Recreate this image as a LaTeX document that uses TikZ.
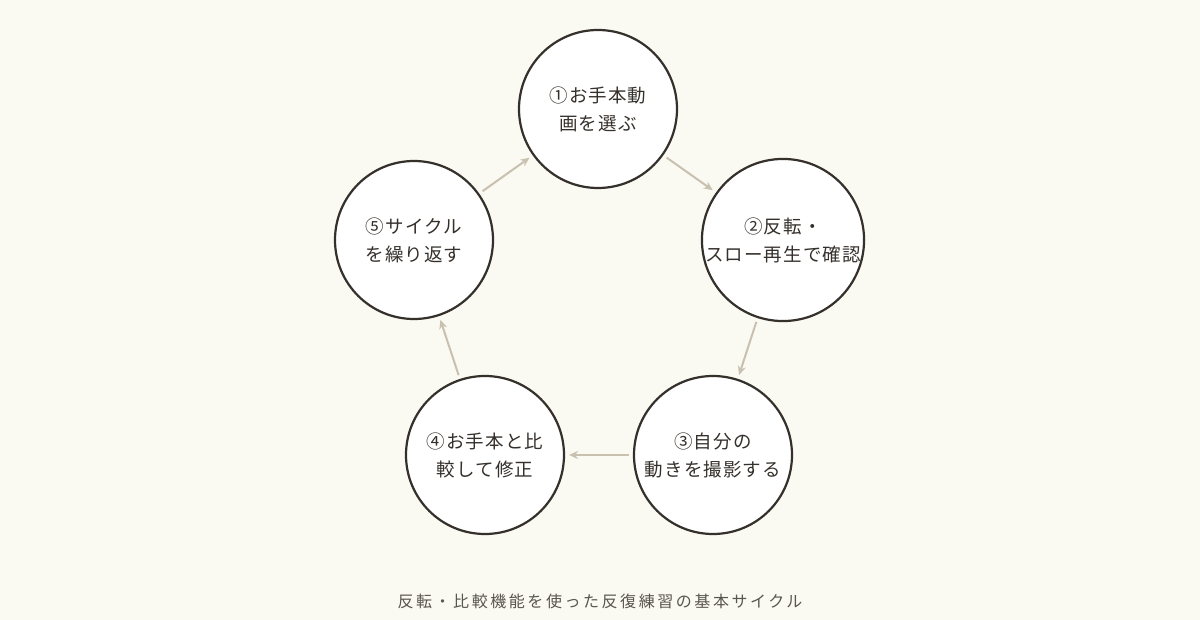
\documentclass[tikz,border=0pt]{standalone}
\usepackage{fontspec}
\newfontfamily\cjkn[LetterSpace=6]{Noto Sans CJK JP}
\newfontfamily\cjkc[LetterSpace=16]{Noto Sans CJK JP}
\usetikzlibrary{arrows.meta}
\definecolor{bg}{HTML}{FAF9F2}
\definecolor{ink}{HTML}{35302B}
\definecolor{arr}{HTML}{C9C1B0}
\definecolor{cap}{HTML}{5A554E}
\begin{document}
\begin{tikzpicture}[x=1pt,y=-1pt,
  st/.style={circle,draw=ink,line width=2.2pt,fill=white,minimum size=158pt,inner sep=0pt,align=center,font=\cjkn\fontsize{18.5}{28}\selectfont,text=ink},
  ar/.style={draw=arr,line width=2pt,-{Stealth[length=9pt,width=8pt,open]},shorten >=4pt,shorten <=4pt}]
\fill[bg] (0,0) rectangle (1200,620);
\useasboundingbox (0,0) rectangle (1200,620);
\node[st] (a) at (598,109) {①お手本動\\画を選ぶ};
\node[st] (b) at (783,240) {②反転・\\スロー再生で確認};
\node[st] (c) at (713,455) {③自分の\\動きを撮影する};
\node[st] (d) at (485,455) {④お手本と比\\較して修正};
\node[st] (e) at (414,240) {⑤サイクル\\を繰り返す};
\draw[ar] (a) -- (b);
\draw[ar] (b) -- (c);
\draw[ar] (c) -- (d);
\draw[ar] (d) -- (e);
\draw[ar] (e) -- (a);
\node[font=\cjkc\fontsize{16}{18}\selectfont,text=cap] (t) at (600,601) {反転・比較機能を使った反復練習の基本サイクル};
\end{tikzpicture}
\end{document}
